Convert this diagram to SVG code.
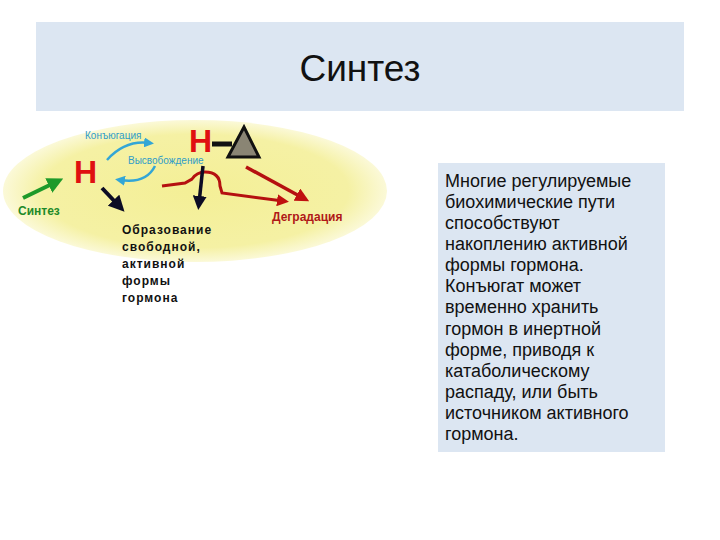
<svg xmlns="http://www.w3.org/2000/svg" width="720" height="540" viewBox="0 0 720 540">
<defs>
<radialGradient id="yel" cx="0.5" cy="0.5" r="0.5">
<stop offset="0" stop-color="#f4ef96"/>
<stop offset="0.8" stop-color="#f5f1a4"/>
<stop offset="1" stop-color="#fbf9d8"/>
</radialGradient>
<marker id="mGreen" markerWidth="4" markerHeight="4" refX="2" refY="2" orient="auto" markerUnits="strokeWidth"><path d="M0,0 L4,2 L0,4 z" fill="#1e9a2a"/></marker>
<marker id="mBlack" markerWidth="4" markerHeight="4" refX="2" refY="2" orient="auto" markerUnits="strokeWidth"><path d="M0,0 L4,2 L0,4 z" fill="#0c0c24"/></marker>
<marker id="mRed" markerWidth="4" markerHeight="4" refX="2" refY="2" orient="auto" markerUnits="strokeWidth"><path d="M0,0 L4,2 L0,4 z" fill="#c01010"/></marker>
<marker id="mBlue" markerWidth="4" markerHeight="4" refX="2" refY="2" orient="auto" markerUnits="strokeWidth"><path d="M0,0 L4,2 L0,4 z" fill="#33a6d6"/></marker>
</defs>
<style>
.box{fill:#dce6f2}
.title{font-family:"Liberation Sans",Arial,sans-serif;font-size:37px;fill:#111}
.body{font-family:"Liberation Sans",Arial,sans-serif;font-size:18px;fill:#111}
.H{font-family:"Liberation Sans",Arial,sans-serif;font-weight:bold;font-size:32px;fill:#e01010}
.blue{font-family:"Liberation Sans",Arial,sans-serif;font-size:10px;fill:#2f9cc8}
.lbl{font-family:"Liberation Sans",Arial,sans-serif;font-weight:bold;font-size:12px}
.blk{font-family:"Liberation Sans",Arial,sans-serif;font-weight:bold;font-size:12px;fill:#111;letter-spacing:1px}
</style>
<rect width="720" height="540" fill="#ffffff"/>
<g id="title">
<rect class="box" x="36" y="22" width="648" height="89"/>
<text class="title" x="360" y="81" text-anchor="middle">Синтез</text>
</g>
<g id="ellipse">
<ellipse cx="195" cy="191" rx="192" ry="71" fill="url(#yel)"/>
</g>
<g id="connectors">
<line x1="23" y1="198" x2="56" y2="182" stroke="#1e9a2a" stroke-width="4" marker-end="url(#mGreen)"/>
<path d="M107,160 Q125,140 149,143" fill="none" stroke="#33a6d6" stroke-width="2.5" marker-end="url(#mBlue)"/>
<path d="M155,166 Q146,184 120,180" fill="none" stroke="#33a6d6" stroke-width="2.5" marker-end="url(#mBlue)"/>
<line x1="102" y1="188" x2="119" y2="206" stroke="#0c0c24" stroke-width="4" marker-end="url(#mBlack)"/>
<line x1="212" y1="144" x2="232" y2="144" stroke="#111" stroke-width="5"/>
<path d="M162,186 L185,183 L192,179 Q197,172 205,172 Q220,172 220,186 L222,193 L283,201" fill="none" stroke="#b51010" stroke-width="3" marker-end="url(#mRed)"/>
<line x1="203" y1="166" x2="199" y2="203" stroke="#0c0c24" stroke-width="3.5" marker-end="url(#mBlack)"/>
<line x1="246" y1="167" x2="303" y2="198" stroke="#b51010" stroke-width="3.5" marker-end="url(#mRed)"/>
</g>
<g id="synthesis">
<text class="lbl" x="18" y="215" fill="#1e8a2a">Синтез</text>
</g>
<g id="H-free">
<text class="H" x="74" y="183">H</text>
</g>
<g id="conjugation-label">
<text class="blue" x="85" y="139">Конъюгация</text>
</g>
<g id="release-label">
<text class="blue" x="128" y="164">Высвобождение</text>
</g>
<g id="H-conjugate">
<text class="H" x="189" y="152">H</text>
<polygon points="228,157 244,127 259,157" fill="#8a8574" stroke="#111" stroke-width="3" stroke-linejoin="miter"/>
</g>
<g id="degradation">
<text class="lbl" x="272" y="221" fill="#b01818">Деградация</text>
</g>
<g id="active-form">
<text class="blk" x="122" y="234">Образование</text>
<text class="blk" x="122" y="251">свободной,</text>
<text class="blk" x="122" y="268">активной</text>
<text class="blk" x="122" y="285">формы</text>
<text class="blk" x="122" y="302">гормона</text>
</g>
<g id="note">
<rect class="box" x="438" y="163" width="227" height="289"/>
<text class="body" x="445" y="187">Многие регулируемые</text>
<text class="body" x="445" y="208">биохимические пути</text>
<text class="body" x="445" y="229">способствуют</text>
<text class="body" x="445" y="250">накоплению активной</text>
<text class="body" x="445" y="271">формы гормона.</text>
<text class="body" x="445" y="292">Конъюгат может</text>
<text class="body" x="445" y="313">временно хранить</text>
<text class="body" x="445" y="335">гормон в инертной</text>
<text class="body" x="445" y="356">форме, приводя к</text>
<text class="body" x="445" y="377">катаболическому</text>
<text class="body" x="445" y="398">распаду, или быть</text>
<text class="body" x="445" y="419">источником активного</text>
<text class="body" x="445" y="440">гормона.</text>
</g>
</svg>
